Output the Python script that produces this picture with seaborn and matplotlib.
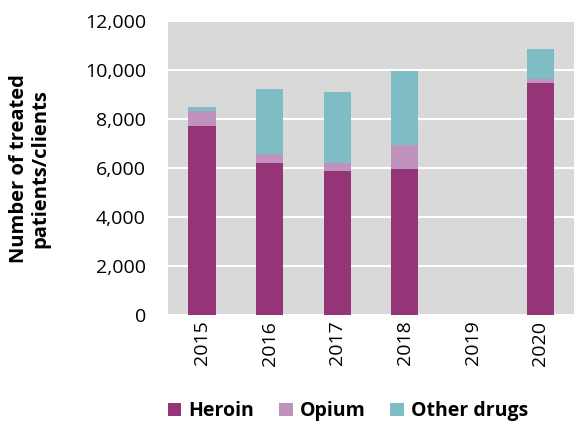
import numpy as np
import pandas as pd
import matplotlib
matplotlib.use("Agg")
import matplotlib.pyplot as plt
from matplotlib.patches import Patch
from matplotlib.ticker import FuncFormatter
import seaborn as sns

years = ["2015", "2016", "2017", "2018", "2019", "2020"]
heroin = [7710, 6230, 5900, 5960, np.nan, 9470]
opium = [630, 355, 315, 1005, np.nan, 175]
other_drugs = [150, 2640, 2900, 2995, np.nan, 1210]

series_names = ["Heroin", "Opium", "Other drugs"]
colors = ["#953577", "#c093bd", "#7dbdc3"]


def main() -> None:
    df = pd.DataFrame({"Year": years, "Heroin": heroin, "Opium": opium, "Other drugs": other_drugs})
    # cumulative tops for stacking, drawn from the tallest down
    df["c_heroin"] = df["Heroin"]
    df["c_opium"] = df["Heroin"] + df["Opium"]
    df["c_other"] = df["c_opium"] + df["Other drugs"]

    sns.set_style("white")
    plt.rcParams["font.family"] = ["Open Sans", "DejaVu Sans"]
    plt.rcParams["text.color"] = "black"

    fig = plt.figure(figsize=(5.74, 4.23), dpi=100)
    ax = fig.add_axes([0.293, 0.255, 0.707, 0.695])
    ax.set_facecolor("#d9d9d9")

    for col, color in zip(["c_other", "c_opium", "c_heroin"], colors[::-1]):
        sns.barplot(x="Year", y=col, data=df, order=years, color=color, saturation=1,
                    width=0.4, linewidth=0, errorbar=None, ax=ax, zorder=3)

    ax.set_ylim(0, 12000)
    ax.set_xlim(-0.5, 5.5)
    ax.set_yticks(range(0, 12001, 2000))
    ax.yaxis.set_major_formatter(FuncFormatter(lambda v, p: f"{int(v):,}"))
    ax.grid(axis="y", color="white", linewidth=1.5, zorder=0)
    ax.set_axisbelow(True)
    for s in ax.spines.values():
        s.set_visible(False)

    ax.tick_params(axis="y", labelsize=14, length=0, pad=16, labelcolor="black")
    ax.tick_params(axis="x", labelsize=14, length=0, rotation=90, pad=4, labelcolor="black")
    ax.set_xlabel("")
    ax.set_ylabel("Number of treated\npatients/clients", fontsize=14.5, fontweight="bold",
                  labelpad=25, linespacing=1.1, color="black")

    handles = [Patch(facecolor=c, edgecolor="none") for c in colors]
    fig.legend(handles, series_names, loc="center", bbox_to_anchor=(0.606, 0.028), ncol=3,
               frameon=False, prop={"weight": "bold", "size": 14},
               handlelength=0.7, handleheight=0.7, handletextpad=0.35, columnspacing=1.3)

    fig.savefig("out.png", dpi=100)


if __name__ == "__main__":
    main()
